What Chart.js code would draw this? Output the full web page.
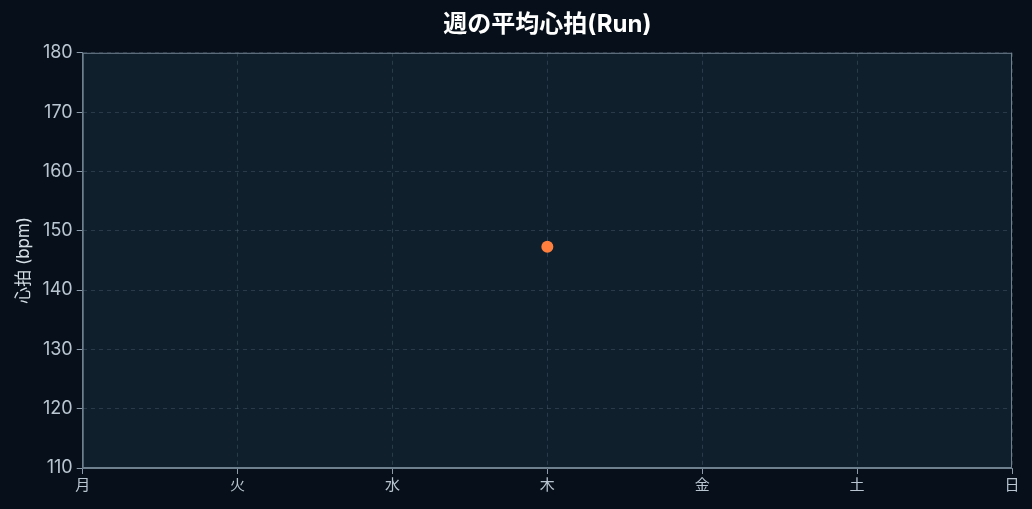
<!DOCTYPE html>
<html lang="ja">
<head>
<meta charset="UTF-8">
<title>週の平均心拍(Run)</title>
<script src="https://cdn.jsdelivr.net/npm/chart.js"></script>
<style>
  html, body { margin: 0; padding: 0; background: #07101a; }
  #wrap { width: 1032px; height: 509px; }
</style>
</head>
<body>
<div id="wrap"><canvas id="hr-chart"></canvas></div>
<script>
  // データ
  const days = ['月', '火', '水', '木', '金', '土', '日'];
  const avgHeartRate = [null, null, null, 147.3, null, null, null];
  const yTicks = [110, 120, 130, 140, 150, 160, 170, 180];
  const titleText = '週の平均心拍(Run)';

  const font = "Inter, 'Noto Sans CJK JP', sans-serif";

  // プロット領域の背景
  const areaBg = {
    id: 'areaBg',
    beforeDraw(chart) {
      const { ctx, chartArea: a } = chart;
      ctx.save();
      ctx.fillStyle = '#0f1f2c';
      ctx.fillRect(a.left, a.top, a.right - a.left, a.bottom - a.top);
      ctx.restore();
    }
  };

  // 枠線とタイトル（プロット領域の中央に置く）
  const frameAndTitle = {
    id: 'frameAndTitle',
    afterDraw(chart) {
      const { ctx, chartArea: a } = chart;
      ctx.save();
      ctx.strokeStyle = '#6e7f8e';
      ctx.lineWidth = 1;
      ctx.strokeRect(a.left + 0.5, a.top + 0.5, a.right - a.left - 1, a.bottom - a.top - 1);

      const tb = chart.titleBlock;
      const opts = chart.options.plugins.title;
      const size = opts.font.size;
      const y = tb.top + opts.padding.top + size * 1.2 / 2;
      ctx.fillStyle = '#ffffff';
      ctx.font = 'bold ' + size + 'px ' + font;
      ctx.textAlign = 'center';
      ctx.textBaseline = 'middle';
      ctx.fillText(titleText, (a.left + a.right) / 2, y);
      ctx.restore();
    }
  };

  new Chart(document.getElementById('hr-chart'), {
    type: 'line',
    data: {
      labels: days,
      datasets: [{
        label: '平均心拍',
        data: avgHeartRate,
        borderColor: '#ff7f3f',
        backgroundColor: '#ff7f3f',
        pointRadius: 6,
        pointBorderWidth: 0,
        showLine: false
      }]
    },
    options: {
      responsive: true,
      maintainAspectRatio: false,
      animation: false,
      layout: { padding: { left: 10, right: 20, top: 4, bottom: 13 } },
      plugins: {
        legend: { display: false },
        tooltip: { enabled: false },
        title: {
          display: true,
          text: titleText,
          color: 'rgba(0,0,0,0)',
          font: { family: font, size: 24, weight: 'bold' },
          padding: { top: 6, bottom: 14 }
        }
      },
      scales: {
        x: {
          offset: false,
          grid: {
            color: 'rgba(120,140,160,0.25)',
            tickColor: '#8a9aa8',
            tickLength: 6
          },
          border: { color: '#6e7f8e', dash: [4, 4] },
          ticks: { color: '#b9c6d2', font: { family: font, size: 15 }, padding: 2 }
        },
        y: {
          min: 110,
          max: 180,
          afterBuildTicks(axis) { axis.ticks = yTicks.map(v => ({ value: v })); },
          grid: {
            color: 'rgba(120,140,160,0.25)',
            tickColor: '#8a9aa8',
            tickLength: 6
          },
          border: { color: '#6e7f8e', dash: [4, 4] },
          ticks: { color: '#b9c6d2', font: { family: font, size: 18 }, padding: 4 },
          title: {
            display: true,
            text: '心拍 (bpm)',
            color: '#d6dee6',
            font: { family: font, size: 17 },
            padding: { bottom: 4 }
          }
        }
      }
    },
    plugins: [areaBg, frameAndTitle]
  });
</script>
</body>
</html>
